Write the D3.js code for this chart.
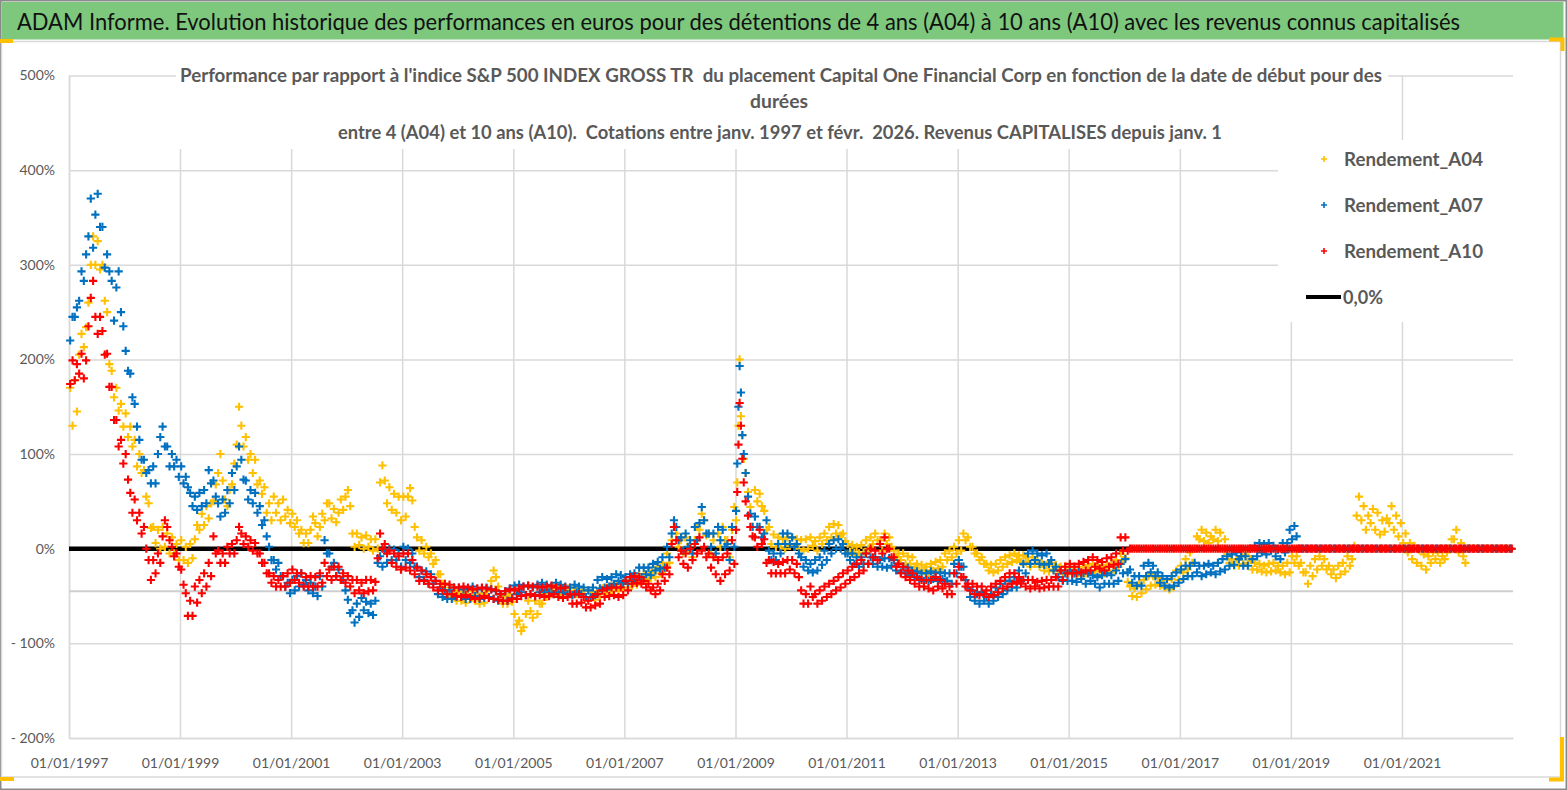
<!DOCTYPE html>
<html>
<head>
<meta charset="utf-8">
<script src="https://cdn.jsdelivr.net/npm/d3@7"></script>
<style>
    body { margin: 0; background: #fff; }
    svg { display: block; font-family: Lato, "Open Sans", sans-serif; }
</style>
</head>
<body>
<div id="vis"></div>
<script>

// tick labels
const xTickLabels = ["01/01/1997", "01/01/1999", "01/01/2001", "01/01/2003", "01/01/2005", "01/01/2007",
    "01/01/2009", "01/01/2011", "01/01/2013", "01/01/2015", "01/01/2017", "01/01/2019", "01/01/2021"];
const yTickValues = [500, 400, 300, 200, 100, 0, -100, -200];

const seriesNames = ["Rendement_A04", "Rendement_A07", "Rendement_A10"];
const seriesColors = ["#ffc000", "#0070c0", "#ff0000"];
const zeroLabel = "0,0%";
const lowLine = -45;   // grey horizontal line under the zero line

// one entry per month from janv. 1997; each entry = readings inside that month (in %)
const a04 = [
    [170,130], [178,145], [205,227], [213,234], [260,300], [330,300], [325,295], [300,262], [250,195], [188,160], [170,146], [153,129],   // 1997
    [143,118], [129,108], [115,87], [100,80], [83,55], [48,22], [23,6], [20,0], [23,2], [16,-5], [12,-5], [5,-12],
    [9,-12], [2,-15], [5,-10], [10,25], [20,37], [25,45], [32,48], [50,68], [80,100], [72,52], [45,62], [68,90],
    [110,150], [130,108], [118,94], [100,80], [94,68], [72,58], [65,38], [48,30], [55,38], [48,30], [52,34], [41,27],                       // 2000
    [37,23], [30,16], [20,6], [16,6], [20,34], [27,13], [23,37], [30,48], [48,32], [42,28], [38,52], [41,55],
    [62,45], [16,2], [16,4], [12,0], [14,2], [10,-2], [10,0], [70,88], [72,48], [65,41], [58,38], [55,30],
    [55,34], [55,64], [51,23], [12,-2], [9,-5], [2,-9], [-5,-16], [-12,-27], [-27,-37], [-37,-48], [-41,-51], [-44,-55],
    [-45,-55], [-47,-57], [-44,-52], [-45,-55], [-50,-58], [-47,-57], [-45,-52], [-34,-23], [-30,-40], [-48,-58], [-50,-58], [-48,-56],
    [-69,-80], [-76,-87], [-83,-69], [-55,-66], [-73,-55], [-69,-58], [-58,-48], [-51,-44], [-48,-41], [-47,-41], [-49,-43], [-48,-42],   // 2005
    [-41,-48], [-42,-48], [-41,-47], [-44,-51], [-44,-52], [-46,-54], [-45,-51], [-42,-48], [-41,-47], [-39,-45], [-38,-44], [-37,-43],
    [-34,-41], [-33,-39], [-32,-38], [-27,-34], [-27,-33], [-25,-31], [-23,-30], [-19,-26], [-15,-22], [-5,-15], [9,23], [16,2],
    [9,-5], [12,-2], [5,-9], [9,23], [20,37], [30,14], [16,-5], [9,-9], [16,2], [23,9], [9,-9], [20,44],
    [30,70,130,200], [140,120,95], [80,60], [44,23], [62,50], [58,45], [40,20], [23,5], [15,2], [12,2], [10,0], [12,3],
    [12,2], [10,0], [9,-2], [10,0], [12,3], [8,-2], [12,5], [16,9], [23,12], [26,16], [25,14], [16,8],                                     // 2010
    [5,-3], [4,-4], [2,-5], [4,-4], [9,0], [12,5], [16,9], [9,-2], [16,5], [12,2], [-2,-9], [-5,-12],
    [-5,-16], [-8,-16], [-9,-19], [-16,-23], [-17,-24], [-19,-26], [-16,-23], [-14,-21], [-12,-19], [-5,-12], [-2,-9], [2,-5],
    [9,-2], [16,9], [12,2], [2,-5], [-5,-12], [-9,-16], [-16,-23], [-17,-25], [-16,-23], [-12,-19], [-9,-16], [-7,-14],
    [-5,-12], [-7,-14], [-7,-14], [-9,-19], [-9,-16], [-12,-19], [-16,-23], [-17,-24], [-15,-22], [-17,-24], [-19,-26], [-19,-26],
    [-20,-27], [-19,-26], [-22,-29], [-19,-26], [-17,-24], [-16,-23], [-17,-24], [-19,-26], [-17,-24], [-16,-23], [-12,-19], [-5,-12],   // 2015
    [-10,-35], [-40,-50], [-42,-51], [-37,-47], [-33,-43], [-29,-39], [-29,-38], [-31,-39], [-33,-41], [-33,-43], [-32,-40], [-23,-33],
    [-18,-25], [-11,-22], [-4,-15], [0,13], [10,20], [8,17], [6,13], [10,20], [8,17], [0,10], [-6,-15], [-11,-18],
    [-11,-18], [-8,-16], [-6,-15], [-11,-22], [-15,-22], [-16,-24], [-18,-25], [-16,-24], [-15,-23], [-18,-25], [-18,-27], [-15,-25],
    [-8,-15], [-8,-18], [-15,-25], [-25,-37], [-18,-29], [-11,-22], [-8,-18], [-11,-22], [-18,-27], [-22,-31], [-18,-27], [-15,-24],
    [-8,-18], [-11,3], [35,55], [30,45], [20,35], [27,42], [20,38], [15,30], [18,32], [27,45], [20,35], [13,27],                           // 2020
    [6,16], [-4,6], [-11,3], [-15,-1], [-18,-6], [-22,-8], [-15,-4], [-11,-4], [-15,-8], [-11,-4], [0,10], [10,20],
    [-4,6], [-8,-15], 0, 0, 0, 0, 0, 0, 0, 0, 0, 0
];

const a07 = [
    [220,245], [245,255], [262,293], [283,311], [330,370], [318,353], [375,340], [340,297], [311,293], [283,241], [276,293], [250,235],   // 1997
    [209,188], [185,160], [153,129], [115,94], [94,80], [83,69], [87,69], [100,118], [129,108], [108,87], [100,87], [94,76],
    [87,69], [76,65], [59,45], [55,41], [59,45], [62,48], [83,69], [72,55], [48,34], [52,38], [62,48], [80,62],
    [87,108], [94,73], [72,52], [62,48], [59,38], [45,25], [30,13], [2,-12], [-12,-22], [-15,-29], [-29,-40], [-36,-47],                   // 2000
    [-33,-44], [-29,-40], [-26,-38], [-33,-44], [-36,-47], [-40,-50], [-29,-40], [9,-5], [-5,-19], [-15,-29], [-22,-33], [-33,-44],
    [-54,-68], [-65,-78], [-58,-72], [-52,-65], [-56,-68], [-58,-70], [-55,-15], [-8,-19], [-2,-15], [0,-12], [-1,-12], [-5,-19],
    [2,-12], [0,-15], [-5,-19], [-19,-30], [-23,-33], [-24,-37], [-27,-37], [-34,-48], [-41,-51], [-44,-53], [-44,-53], [-41,-51],
    [-41,-51], [-43,-53], [-42,-53], [-40,-50], [-43,-53], [-42,-52], [-41,-51], [-43,-53], [-45,-55], [-48,-55], [-45,-55], [-42,-52],
    [-39,-48], [-38,-46], [-40,-49], [-39,-48], [-41,-50], [-38,-46], [-36,-44], [-38,-46], [-40,-48], [-36,-46], [-38,-46], [-40,-48],   // 2005
    [-41,-49], [-38,-46], [-40,-48], [-41,-51], [-44,-51], [-41,-49], [-33,-42], [-30,-41], [-32,-40], [-30,-37], [-27,-34], [-28,-36],
    [-30,-37], [-27,-34], [-26,-33], [-20,-30], [-20,-27], [-20,-28], [-16,-23], [-14,-21], [-9,-20], [2,-9], [16,30], [23,9],
    [12,-2], [16,2], [9,-5], [23,9], [27,44], [30,16], [16,2], [16,-5], [23,9], [20,2], [5,-12], [23,2],
    [40,90,150,193], [165,120,100], [80,55], [37,23], [34,23], [23,12], [16,30], [-2,-12], [-5,-12], [5,-5], [16,5], [16,5],
    [12,2], [5,-5], [-9,-19], [-12,-23], [-16,-25], [-12,-23], [-9,-17], [-2,-12], [5,-5], [9,0], [10,0], [5,-5],                         // 2010
    [-5,-12], [-5,-16], [-9,-19], [-9,-16], [-5,-16], [-9,-16], [-9,-19], [-12,-19], [-10,-20], [-10,-18], [-12,-23], [-16,-25],
    [-19,-26], [-20,-28], [-23,-30], [-24,-32], [-26,-34], [-26,-34], [-24,-32], [-26,-34], [-25,-32], [-26,-34], [-26,-37], [-16,-26],
    [-12,-19], [-19,-33], [-41,-51], [-44,-55], [-48,-58], [-46,-55], [-51,-58], [-48,-55], [-41,-51], [-37,-48], [-34,-44], [-34,-41],
    [-30,-41], [-23,-34], [-16,-26], [-5,-16], [-2,-12], [-5,-16], [-7,-17], [-5,-16], [-12,-23], [-19,-30], [-23,-34], [-26,-34],
    [-23,-34], [-26,-35], [-24,-32], [-26,-37], [-26,-34], [-28,-37], [-30,-41], [-28,-37], [-26,-37], [-28,-37], [-23,-34], [-16,-26],   // 2015
    [-11,-25], [-22,-36], [-29,-39], [-29,-39], [-18,-29], [-15,-25], [-18,-29], [-25,-36], [-29,-39], [-32,-41], [-29,-39], [-25,-36],
    [-22,-32], [-18,-29], [-18,-29], [-15,-25], [-18,-29], [-18,-27], [-16,-25], [-18,-27], [-15,-24], [-11,-22], [-8,-18], [-6,-17],
    [-4,-11], [-8,-18], [-8,-18], [0,-11], [3,-8], [6,-4], [5,-6], [6,-2], [3,-8], [-1,-11], [6,-4], [6,20],
    [10,24], [13,0], 0, 0, 0, 0, 0, 0, 0, 0, 0, 0,
    0, 0, 0, 0, 0, 0, 0, 0, 0, 0, 0, 0,                                                                                                   // 2020
    0, 0, 0, 0, 0, 0, 0, 0, 0, 0, 0, 0,
    0, 0, 0, 0, 0, 0, 0, 0, 0, 0, 0, 0
];

const a10 = [
    [174,199], [178,195], [185,206], [180,199], [235,265], [283,245], [227,245], [230,205], [206,171], [171,136], [136,108], [115,90],   // 1997
    [100,73], [59,38], [52,30], [38,16], [23,0], [-12,-33], [-12,-26], [-5,-15], [13,30], [23,9], [2,-8], [-5,-19],
    [-22,-38], [-47,-71], [-55,-71], [-40,-57], [-33,-47], [-26,-40], [-15,-29], [13,-5], [-2,-15], [-5,-15], [2,-5], [5,-5],
    [9,23], [16,5], [13,2], [9,-2], [6,-5], [-5,-15], [-15,-26], [-26,-36], [-29,-40], [-33,-40], [-29,-40], [-26,-36],                   // 2000
    [-22,-33], [-26,-36], [-26,-40], [-30,-40], [-29,-40], [-30,-40], [-26,-36], [-15,-29], [-22,-33], [-19,-29], [-19,-33], [-26,-36],
    [-29,-40], [-33,-47], [-33,-44], [-36,-47], [-33,-45], [-33,-44], [-35,-10], [16,0], [5,-5], [-2,-15], [-5,-19], [-8,-22],
    [-5,-20], [-5,-23], [-12,-27], [-20,-34], [-23,-34], [-27,-37], [-30,-41], [-34,-44], [-37,-44], [-37,-48], [-38,-48], [-41,-50],
    [-41,-51], [-40,-49], [-41,-51], [-43,-53], [-42,-52], [-41,-50], [-42,-52], [-43,-53], [-44,-54], [-48,-55], [-45,-55], [-43,-53],
    [-44,-53], [-42,-50], [-40,-49], [-39,-48], [-40,-50], [-40,-49], [-41,-51], [-40,-50], [-39,-48], [-41,-51], [-42,-52], [-41,-51],   // 2005
    [-48,-58], [-48,-58], [-48,-57], [-51,-62], [-55,-62], [-51,-60], [-48,-58], [-44,-51], [-42,-50], [-41,-49], [-41,-51], [-41,-49],
    [-34,-44], [-30,-37], [-29,-36], [-30,-37], [-34,-41], [-37,-44], [-41,-48], [-37,-44], [-27,-34], [-20,-27], [5,23], [9,-9],
    [-2,-16], [-5,-20], [0,-12], [5,-5], [12,-2], [2,-9], [-5,-20], [-9,-27], [-12,-34], [-9,-27], [-5,-23], [9,-16],
    [20,60,110,154], [130,95,70], [50,35], [23,13], [12,2], [20,5], [10,-15], [-12,-26], [-14,-26], [-16,-26], [-14,-26], [-12,-22],
    [-12,-26], [-16,-30], [-44,-58], [-48,-58], [-40,-51], [-48,-58], [-44,-55], [-40,-51], [-37,-48], [-34,-44], [-30,-41], [-26,-37],   // 2010
    [-23,-33], [-19,-30], [-16,-26], [-12,-23], [-5,-16], [0,-9], [-2,-12], [5,-5], [12,0], [0,-9], [-9,-19], [-16,-26],
    [-19,-30], [-23,-33], [-26,-37], [-30,-40], [-33,-40], [-33,-42], [-33,-44], [-30,-40], [-33,-42], [-37,-48], [-40,-48], [-26,-37],
    [-19,-30], [-30,-40], [-37,-44], [-37,-48], [-40,-49], [-40,-48], [-44,-51], [-40,-49], [-37,-46], [-34,-42], [-30,-40], [-26,-37],
    [-26,-35], [-30,-37], [-33,-40], [-33,-42], [-33,-40], [-35,-42], [-34,-41], [-33,-40], [-33,-40], [-30,-40], [-23,-33], [-19,-26],
    [-16,-26], [-19,-26], [-16,-25], [-14,-23], [-12,-23], [-9,-19], [-12,-21], [-14,-23], [-10,-19], [-9,-17], [-5,-16], [12,-2],         // 2015
    [12,-2], [0,0], [0,0], [0,0], [0,0], [0,0], [0,0], [0,0], [0,0], [0,0], [0,0], [0,0],
    [0,0], [0,0], [0,0], [0,0], [0,0], [0,0], [0,0], [0,0], [0,0], [0,0], [0,0], [0,0],
    [0,0], [0,0], [0,0], [0,0], [0,0], [0,0], [0,0], [0,0], [0,0], [0,0], [0,0], [0,0],
    [0,0], [0,0], [0,0], [0,0], [0,0], [0,0], [0,0], [0,0], [0,0], [0,0], [0,0], [0,0],
    [0,0], [0,0], [0,0], [0,0], [0,0], [0,0], [0,0], [0,0], [0,0], [0,0], [0,0], [0,0],                                                   // 2020
    [0,0], [0,0], [0,0], [0,0], [0,0], [0,0], [0,0], [0,0], [0,0], [0,0], [0,0], [0,0],
    [0,0], [0,0], [0,0], [0,0], [0,0], [0,0], [0,0], [0,0], [0,0], [0,0], [0,0], [0,0]
];


class PerfChart {

    constructor(parentElement, series) {
        this.parentElement = parentElement;
        this.series = series;
        this.displayData = [];
        this.parseTick = d3.timeParse("%d/%m/%Y");
        this.startMonth = new Date(1997, 0, 1);
        this.initVis();
    }

    initVis() {
        let vis = this;

        vis.width = 1567;
        vis.height = 790;
        vis.plot = {left: 69, right: 1513, top: 75.5, bottom: 738};

        vis.svg = d3.select(vis.parentElement).append("svg")
            .attr("width", vis.width)
            .attr("height", vis.height);

        // outer frame, chart area and header bar
        vis.svg.append("rect")
            .attr("x", 0.75).attr("y", 0.75)
            .attr("width", vis.width - 1.5).attr("height", vis.height - 1.5)
            .attr("fill", "#fff").attr("stroke", "#8a8a8a").attr("stroke-width", 1.5);

        vis.svg.append("rect")
            .attr("x", 1.5).attr("y", 41.5)
            .attr("width", 1559).attr("height", 735.5)
            .attr("fill", "#fff").attr("stroke", "#d9d9d9").attr("stroke-width", 1.5);

        vis.svg.append("rect")
            .attr("x", 1.5).attr("y", 2)
            .attr("width", 1562).attr("height", 37.5)
            .attr("fill", "#7ec87e");

        vis.svg.append("text")
            .attr("x", 17).attr("y", 30)
            .attr("textLength", 1443).attr("lengthAdjust", "spacingAndGlyphs")
            .style("font-size", "23px").style("fill", "#111")
            .text("ADAM Informe. Evolution historique des performances en euros pour des détentions de 4 ans (A04) à 10 ans (A10) avec les revenus connus capitalisés");

        // yellow selection handles of the chart
        let handle = "#ffc000";
        vis.svg.append("rect").attr("x", 0).attr("y", 39).attr("width", 13).attr("height", 4).attr("fill", handle);
        vis.svg.append("path").attr("d", "M1549,39.5H1562.5V51").attr("fill", "none").attr("stroke", handle).attr("stroke-width", 4);
        vis.svg.append("rect").attr("x", 0).attr("y", 777).attr("width", 14).attr("height", 4).attr("fill", handle);
        vis.svg.append("path").attr("d", "M1562,737V779.5H1549").attr("fill", "none").attr("stroke", handle).attr("stroke-width", 4);

        // scales
        vis.xscale = d3.scaleTime()
            .domain([new Date(1997, 0, 1), new Date(2023, 0, 1)])
            .range([vis.plot.left, vis.plot.right]);
        vis.yscale = d3.scaleLinear()
            .domain([-200, 500])
            .range([vis.plot.bottom, vis.plot.top]);

        // Axes (ticks used as grid lines)
        vis.yAxis = d3.axisLeft(vis.yscale)
            .tickValues(yTickValues)
            .tickSizeInner(-(vis.plot.right - vis.plot.left))
            .tickSizeOuter(0)
            .tickPadding(14)
            .tickFormat(d => d < 0 ? "- " + Math.abs(d) + "%" : d + "%");

        vis.xAxis = d3.axisBottom(vis.xscale)
            .tickValues(xTickLabels.map(vis.parseTick))
            .tickSizeInner(-(vis.plot.bottom - vis.plot.top))
            .tickSizeOuter(0)
            .tickFormat(d3.timeFormat("%d/%m/%Y"));

        vis.yAxisGroup = vis.svg.append("g").attr("class", "axis y-axis")
            .attr("transform", "translate(" + vis.plot.left + ",0)");
        vis.xAxisGroup = vis.svg.append("g").attr("class", "axis x-axis")
            .attr("transform", "translate(0," + vis.plot.bottom + ")");

        vis.yAxisGroup.call(vis.yAxis);
        vis.xAxisGroup.call(vis.xAxis);

        [vis.yAxisGroup, vis.xAxisGroup].forEach(g => {
            g.selectAll("line").attr("stroke", "#d9d9d9").attr("stroke-width", 1.5);
            g.select(".domain").attr("stroke", "#d9d9d9").attr("stroke-width", 1.5);
            g.selectAll("text").style("font-size", "14px").style("fill", "#595959")
                .style("font-family", "Lato, 'Open Sans', sans-serif");
        });
        vis.xAxisGroup.selectAll("text").attr("y", 25).attr("dy", "0.35em");

        // grey line at -45% and black 0% line
        vis.svg.append("line")
            .attr("x1", vis.plot.left).attr("x2", vis.plot.right)
            .attr("y1", vis.yscale(lowLine)).attr("y2", vis.yscale(lowLine))
            .attr("stroke", "#cfcfcf").attr("stroke-width", 2);

        vis.svg.append("line")
            .attr("x1", vis.plot.left).attr("x2", vis.plot.right)
            .attr("y1", vis.yscale(0)).attr("y2", vis.yscale(0))
            .attr("stroke", "#000").attr("stroke-width", 4.5);

        // title box sits over the grid
        vis.svg.append("rect")
            .attr("x", 176).attr("y", 60).attr("width", 1212).attr("height", 89)
            .attr("fill", "#fff");

        vis.pointsGroup = vis.svg.append("g").attr("class", "points");

        this.wrangleData();
    }

    wrangleData() {
        let vis = this;

        // spread readings of a month evenly across that month
        vis.displayData = vis.series.map(s => {
            let pts = [];
            s.values.forEach((entry, i) => {
                let m0 = d3.timeMonth.offset(vis.startMonth, i);
                let m1 = d3.timeMonth.offset(vis.startMonth, i + 1);
                let vals = Array.isArray(entry) ? entry : [entry];
                vals.forEach((v, j) => {
                    let f = (j + 0.5) / vals.length;
                    pts.push({date: new Date(+m0 + (m1 - m0) * f), value: v});
                });
            });
            return {name: s.name, color: s.color, points: pts};
        });

        this.updateVis();
    }

    updateVis() {
        let vis = this;
        let plus = "M-4.1,0H4.1M0,-4.1V4.1";

        let groups = vis.pointsGroup.selectAll("g.series")
            .data(vis.displayData)
            .enter().append("g")
            .attr("class", "series")
            .attr("stroke", d => d.color);

        groups.selectAll("path")
            .data(d => d.points)
            .enter().append("path")
            .attr("d", plus)
            .attr("stroke-width", 2.1)
            .attr("fill", "none")
            .attr("transform", d => "translate(" + vis.xscale(d.date) + "," + vis.yscale(d.value) + ")");

        // chart title
        let title = vis.svg.append("g")
            .style("font-weight", "bold").style("fill", "#595959").style("font-size", "18px");
        title.append("text").attr("x", 180).attr("y", 82)
            .attr("textLength", 1202).attr("lengthAdjust", "spacingAndGlyphs")
            .attr("xml:space", "preserve")
            .text("Performance par rapport à l'indice S&P 500 INDEX GROSS TR  du placement Capital One Financial Corp en fonction de la date de début pour des");
        title.append("text").attr("x", 779).attr("y", 108)
            .attr("textLength", 58).attr("lengthAdjust", "spacingAndGlyphs")
            .style("text-anchor", "middle")
            .text("durées");
        title.append("text").attr("x", 338).attr("y", 139)
            .attr("textLength", 884).attr("lengthAdjust", "spacingAndGlyphs")
            .attr("xml:space", "preserve")
            .text("entre 4 (A04) et 10 ans (A10).  Cotations entre janv. 1997 et févr.  2026. Revenus CAPITALISES depuis janv. 1");

        // legend
        let legend = vis.svg.append("g").attr("class", "legend");
        legend.append("rect")
            .attr("x", 1278).attr("y", 140).attr("width", 279).attr("height", 182)
            .attr("fill", "#fff");

        let rows = legend.selectAll("g.row")
            .data(vis.displayData)
            .enter().append("g")
            .attr("class", "row")
            .attr("transform", (d, i) => "translate(0," + (159 + i * 46) + ")");

        rows.append("path")
            .attr("d", "M-3,0H3M0,-3V3")
            .attr("transform", "translate(1324,0)")
            .attr("stroke", d => d.color).attr("stroke-width", 1.6).attr("fill", "none");

        rows.append("text")
            .attr("x", 1344).attr("y", 7)
            .attr("textLength", 139).attr("lengthAdjust", "spacingAndGlyphs")
            .style("font-size", "19px").style("font-weight", "bold").style("fill", "#595959")
            .text(d => d.name);

        legend.append("line")
            .attr("x1", 1306).attr("x2", 1341).attr("y1", 297).attr("y2", 297)
            .attr("stroke", "#000").attr("stroke-width", 4);
        legend.append("text")
            .attr("x", 1343).attr("y", 304)
            .attr("textLength", 40).attr("lengthAdjust", "spacingAndGlyphs")
            .style("font-size", "19px").style("font-weight", "bold").style("fill", "#595959")
            .text(zeroLabel);
    }
}

let chart = new PerfChart("#vis", [
    {name: seriesNames[0], color: seriesColors[0], values: a04},
    {name: seriesNames[1], color: seriesColors[1], values: a07},
    {name: seriesNames[2], color: seriesColors[2], values: a10}
]);

</script>
</body>
</html>
